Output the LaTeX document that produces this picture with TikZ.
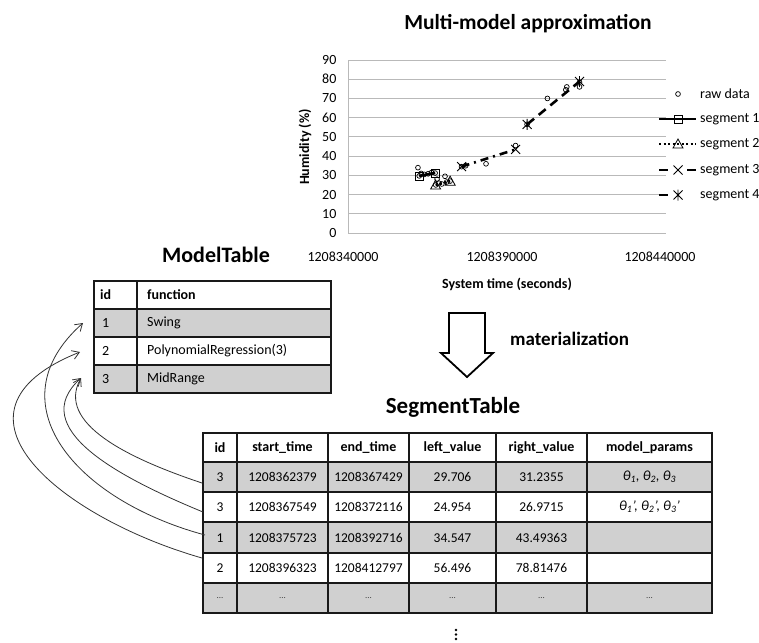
\documentclass[tikz,border=0pt]{standalone}
\usepackage{fontspec}
\setmainfont{Carlito}
\usetikzlibrary{arrows.meta}
\definecolor{rowgray}{RGB}{208,208,208}
\definecolor{gridgray}{RGB}{185,185,185}
\newcommand{\fsz}[2]{\fontsize{#1}{#2}\selectfont}
\begin{document}
\begin{tikzpicture}[x=1pt,y=-1pt,
  tline/.style={line width=1.6pt, draw=black!90},
  gridline/.style={draw=gridgray, line width=0.9pt},
  segline/.style={line width=2.6pt, black},
  link/.style={draw=black!80, line width=0.8pt, -{Straight Barb[length=7pt,width=9pt]}},
  lab/.style={font=\fsz{14}{16}, inner sep=0pt},
  blab/.style={font=\bfseries\fsz{14}{16}, inner sep=0pt},
  cellt/.style={font=\fsz{13.5}{16}, inner sep=0pt},
  dots/.style={font=\fsz{9}{10}, text=black!75, inner sep=0pt},
  rawm/.pic={\draw[line width=0.7pt] (0,0) circle (2.4pt);},
  sqm/.pic={\draw[line width=0.8pt] (-4pt,-4pt) rectangle (4pt,4pt);},
  trim/.pic={\draw[line width=0.8pt] (0,5pt) -- (5pt,-4pt) -- (-5pt,-4pt) -- cycle;},
  xm/.pic={\draw[line width=0.9pt] (-4.5pt,-4.5pt) -- (4.5pt,4.5pt) (-4.5pt,4.5pt) -- (4.5pt,-4.5pt);},
  astm/.pic={\draw[line width=0.9pt] (-4.5pt,-4.5pt) -- (4.5pt,4.5pt) (-4.5pt,4.5pt) -- (4.5pt,-4.5pt) (0,-5.5pt) -- (0,5.5pt);}
]
\useasboundingbox (0,0) rectangle (759,642);

% ---------- chart ----------
\node[font=\bfseries\fsz{21.5}{26}, inner sep=0pt] (charttitle) at (528,24) {Multi-model approximation};

% data coordinates: x in thousands of seconds after 1208340000, y in percent
\begin{scope}[shift={(348,233)}, x=3.18pt, y=1.9222pt]
  \draw[gridline] (0,0) -- (0,90);
  \foreach \v in {0,10,...,90} {
    \draw[gridline] (0,\v) -- (100,\v);
    \node[lab, anchor=east] (ytick\v) at (-3.6,\v) {\v};
  }
  % raw data
  \foreach \t/\v in {22.0/34.0, 22.4/29.7, 23.0/31.0, 24.0/30.5, 25.2/30.8, 26.3/31.5, 27.4/31.2,
                     27.6/25.0, 28.0/28.0, 28.5/26.0, 29.5/25.5, 30.5/29.5, 31.0/26.5, 32.1/27.0,
                     35.7/34.5, 37.0/35.0, 43.4/36.0, 52.7/45.5,
                     56.3/56.5, 62.7/70.0, 68.5/74.5, 68.8/76.0, 72.8/76.0, 72.8/78.5}
    \pic at (\t,\v) {rawm};
  % segments
  \coordinate (a1) at (22.379,29.706);  \coordinate (b1) at (27.429,31.2355);
  \coordinate (a2) at (27.549,24.954);  \coordinate (b2) at (32.116,26.9715);
  \coordinate (a3) at (35.723,34.547);  \coordinate (b3) at (52.716,43.49363);
  \coordinate (a4) at (56.323,56.496);  \coordinate (b4) at (72.797,78.81476);
  \draw[segline] (a1) -- (b1);
  \draw[segline, dash pattern=on 2pt off 2.5pt] (a2) -- (b2);
  \draw[segline, dash pattern=on 8pt off 5pt on 2pt off 5pt] (a3) -- (b3);
  \draw[segline, dash pattern=on 9pt off 6pt] (a4) -- (b4);
  \pic at (a1) {sqm}; \pic at (b1) {sqm};
  \pic at (a2) {trim}; \pic at (b2) {trim};
  \pic at (a3) {xm}; \pic at (b3) {xm};
  \pic at (a4) {astm}; \pic at (b4) {astm};
\end{scope}

\node[lab] (xtick1) at (343,257) {1208340000};
\node[lab] (xtick2) at (502,257) {1208390000};
\node[lab] (xtick3) at (660,257) {1208440000};
\node[blab] (xaxis) at (507,284) {System time (seconds)};
\node[blab, rotate=90] (yaxis) at (305,147) {Humidity (\%)};

% legend
\pic at (678,94) {rawm};
\node[lab, anchor=west] (leg0) at (700,94) {raw data};
\draw[segline] (659,119) -- (696,119); \pic at (678,119) {sqm};
\node[lab, anchor=west] (leg1) at (700,119) {segment 1};
\draw[segline, dash pattern=on 2pt off 2.5pt] (659,144) -- (696,144); \pic at (678,144) {trim};
\node[lab, anchor=west] (leg2) at (700,144) {segment 2};
\draw[segline] (659,170) -- (668,170) (687,170) -- (696,170); \pic at (678,170) {xm};
\node[lab, anchor=west] (leg3) at (700,170) {segment 3};
\draw[segline] (659,195) -- (668,195); \pic at (678,195) {astm};
\node[lab, anchor=west] (leg4) at (700,195) {segment 4};

% ---------- ModelTable ----------
\node[font=\bfseries\fsz{22}{26}, inner sep=0pt] (mtitle) at (216,255) {ModelTable};
\fill[rowgray] (94,309) rectangle (331,337);
\fill[rowgray] (94,365) rectangle (331,393);
\draw[tline] (94,281) rectangle (331,393);
\foreach \y in {309,337,365} \draw[tline] (94,\y) -- (331,\y);
\draw[tline] (137,281) -- (137,393);
\node[blab, anchor=west] (mh1) at (100,295) {id};
\node[blab, anchor=west] (mh2) at (147,295) {function};
\foreach \i/\f [count=\r] in {1/Swing, 2/PolynomialRegression(3), 3/MidRange} {
  \node[lab, anchor=west] (mid\r) at (102,295+28*\r) {\i};
  \node[lab, anchor=west] (mfn\r) at (147,295+28*\r) {\f};
}

% ---------- materialization ----------
\draw[line width=1.8pt, line join=miter] (449,313) -- (485,313) -- (485,353) -- (493,353)
  -- (467,377) -- (441,353) -- (449,353) -- cycle;
\node[font=\bfseries\fsz{19}{22}, inner sep=0pt, anchor=west] (mat) at (510,339) {materialization};

% ---------- SegmentTable ----------
\node[font=\bfseries\fsz{23}{27}, inner sep=0pt] (stitle) at (453,407) {SegmentTable};
\foreach \y in {462,522,583} \fill[rowgray] (203,\y) rectangle (712,\y+30);
\fill[rowgray] (203,583) rectangle (712,613);
\draw[tline] (203,433) rectangle (712,613);
\foreach \y in {462,492,522,553,583} \draw[tline] (203,\y) -- (712,\y);
\foreach \x in {237,328,409,496,587} \draw[tline] (\x,433) -- (\x,613);
% header
\foreach \h/\cx [count=\c] in {id/220, start\_time/282.5, end\_time/368.5, left\_value/452.5, right\_value/541.5, model\_params/649.5}
  \node[blab] (sh\c) at (\cx,448) {\h};
% rows
\foreach \a/\b/\cc/\d/\e [count=\r] in {3/1208362379/1208367429/29.706/31.2355,
                                      3/1208367549/1208372116/24.954/26.9715,
                                      1/1208375723/1208392716/34.547/43.49363,
                                      2/1208396323/1208412797/56.496/78.81476} {
  \pgfmathsetmacro{\ry}{{477,507,538,568}[\r-1]}
  \node[cellt] (sid\r) at (220,\ry) {\a};
  \node[cellt] (sst\r) at (282.5,\ry) {\b};
  \node[cellt] (sen\r) at (368.5,\ry) {\cc};
  \node[cellt] (slv\r) at (452.5,\ry) {\d};
  \node[cellt] (srv\r) at (541.5,\ry) {\e};
}
\node[cellt, font=\itshape\fsz{14}{16}] (smp1) at (649.5,477) {θ\textsubscript{1}, θ\textsubscript{2}, θ\textsubscript{3}};
\node[cellt, font=\itshape\fsz{14}{16}] (smp2) at (649.5,507) {θ\textsubscript{1}’, θ\textsubscript{2}’, θ\textsubscript{3}’};
\foreach \cx [count=\c] in {220, 282.5, 368.5, 452.5, 541.5, 649.5}
  \node[dots] (sdots\c) at (\cx,598) {...};

% more rows follow
\foreach \yy in {630,634.5,639} \fill (456,\yy) circle (1.3pt);

% ---------- foreign-key links ----------
\coordinate (m1) at (83,323);
\coordinate (m2) at (80,352);
\coordinate (m3) at (81,378);
\coordinate (s1) at (202,483);
\coordinate (s2) at (203,512);
\coordinate (s3) at (205,535);
\coordinate (s4) at (202,558);
\draw[link] (s1) .. controls +(-75,-25) and +(-25,45) .. (m3);
\draw[link] (s2) .. controls +(-85,-35) and +(-55,50) .. (m3);
\draw[link] (s3) .. controls +(-130,-35) and +(-90,80) .. (m1);
\draw[link] (s4) .. controls +(-140,-40) and +(-150,60) .. (m2);
\end{tikzpicture}
\end{document}
